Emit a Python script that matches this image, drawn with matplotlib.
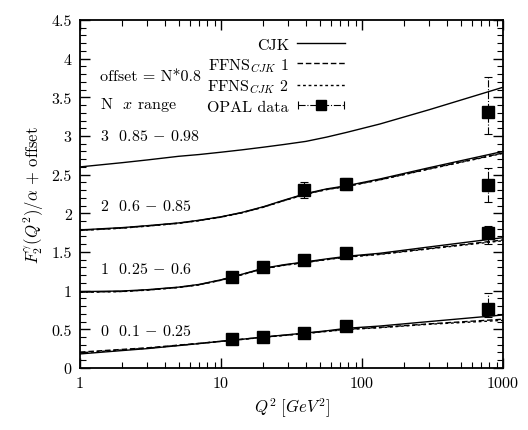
import matplotlib
matplotlib.use("Agg")
import matplotlib.pyplot as plt
import matplotlib.ticker as ticker
from matplotlib.lines import Line2D
from matplotlib.legend_handler import HandlerErrorbar

plt.rcParams['font.family'] = 'serif'
plt.rcParams['font.serif'] = ['cmr10', 'DejaVu Serif']
plt.rcParams['mathtext.fontset'] = 'cm'
plt.rcParams['axes.formatter.use_mathtext'] = True
plt.rcParams['font.size'] = 11

# Q^2 grid for the theory curves (GeV^2)
q2_curve = [1, 2, 3, 5, 7, 10, 14, 20, 28, 40, 56, 78, 134, 300, 1000]

# CJK curves, offset already included (N = 0..3)
cjk_0 = [0.181, 0.225, 0.25, 0.289, 0.315, 0.345, 0.37, 0.40, 0.425, 0.452, 0.48, 0.513, 0.542, 0.60, 0.685]
cjk_1 = [0.987, 0.995, 1.012, 1.045, 1.08, 1.14, 1.21, 1.289, 1.335, 1.372, 1.41, 1.444, 1.483, 1.565, 1.685]
cjk_2 = [1.785, 1.815, 1.84, 1.875, 1.91, 1.955, 2.01, 2.085, 2.17, 2.255, 2.315, 2.357, 2.444, 2.59, 2.80]
cjk_3 = [2.60, 2.655, 2.69, 2.737, 2.76, 2.79, 2.82, 2.855, 2.89, 2.93, 2.985, 3.047, 3.155, 3.34, 3.63]

# FFNS_CJK 1 and 2 curves
ffns1_0 = [0.205, 0.24, 0.26, 0.295, 0.318, 0.345, 0.37, 0.398, 0.422, 0.448, 0.475, 0.50, 0.525, 0.57, 0.63]
ffns1_1 = [0.98, 0.99, 1.008, 1.042, 1.077, 1.137, 1.207, 1.285, 1.33, 1.367, 1.404, 1.437, 1.473, 1.545, 1.655]
ffns1_2 = [1.78, 1.81, 1.836, 1.872, 1.907, 1.952, 2.007, 2.081, 2.165, 2.25, 2.309, 2.35, 2.435, 2.576, 2.78]
ffns2_0 = [0.195, 0.233, 0.255, 0.292, 0.316, 0.343, 0.368, 0.396, 0.42, 0.445, 0.472, 0.497, 0.52, 0.565, 0.615]
ffns2_1 = [0.978, 0.988, 1.006, 1.04, 1.075, 1.134, 1.204, 1.282, 1.327, 1.364, 1.4, 1.433, 1.468, 1.54, 1.645]
ffns2_2 = [1.778, 1.808, 1.834, 1.87, 1.905, 1.95, 2.005, 2.079, 2.163, 2.247, 2.306, 2.347, 2.432, 2.572, 2.775]

# OPAL data (offset included)
q2_0 = [12, 20, 39, 77, 780]
f2_0 = [0.375, 0.405, 0.449, 0.539, 0.759]
lo_0 = [0.02, 0.02, 0.02, 0.02, 0.10]
hi_0 = [0.02, 0.02, 0.02, 0.02, 0.205]

q2_1 = [12, 20, 39, 77, 780]
f2_1 = [1.18, 1.30, 1.397, 1.483, 1.742]
lo_1 = [0.02, 0.02, 0.02, 0.02, 0.14]
hi_1 = [0.02, 0.02, 0.02, 0.02, 0.10]

q2_2 = [39, 77, 780]
f2_2 = [2.30, 2.375, 2.37]
lo_2 = [0.10, 0.08, 0.23]
hi_2 = [0.10, 0.08, 0.22]

q2_3 = [780]
f2_3 = [3.315]
lo_3 = [0.29]
hi_3 = [0.445]

row_labels = [r'0  0.1 $-$ 0.25', r'1  0.25 $-$ 0.6', r'2  0.6 $-$ 0.85', r'3  0.85 $-$ 0.98']
row_y = [0.49, 1.29, 2.1, 3.0]

fig = plt.figure(figsize=(5.28, 4.31), dpi=100)
ax = fig.add_axes([0.1515, 0.144, 0.8012, 0.8073])

lw = 1.0
dash1 = (0, (4, 2))
dash2 = (0, (2, 2))
for cj in [cjk_0, cjk_1, cjk_2, cjk_3]:
    ax.plot(q2_curve, cj, c='k', lw=lw)
for f1 in [ffns1_0, ffns1_1, ffns1_2]:
    ax.plot(q2_curve, f1, c='k', lw=lw, ls=dash1)
for f2 in [ffns2_0, ffns2_1, ffns2_2]:
    ax.plot(q2_curve, f2, c='k', lw=lw, ls=dash2)

for q, f, lo, hi in [(q2_0, f2_0, lo_0, hi_0), (q2_1, f2_1, lo_1, hi_1),
                     (q2_2, f2_2, lo_2, hi_2), (q2_3, f2_3, lo_3, hi_3)]:
    eb = ax.errorbar(q, f, yerr=[lo, hi], fmt='s', c='k', ms=8, capsize=3,
                     elinewidth=0.8, capthick=0.8)
    eb[2][0].set_linestyle('-.')

# proxy for the legend (horizontal error bar), drawn outside the x range
proxy = ax.errorbar([0.1], [-1], xerr=[0.01], fmt='s', c='k', ms=7, capsize=3,
                    elinewidth=0.8, capthick=0.8)
proxy[2][0].set_linestyle('-.')

handles = [Line2D([], [], c='k', lw=lw),
           Line2D([], [], c='k', lw=lw, ls=dash1),
           Line2D([], [], c='k', lw=lw, ls=dash2),
           proxy]
labels = ['CJK', r'FFNS$_{CJK}$ 1', r'FFNS$_{CJK}$ 2', 'OPAL data']
ax.legend(handles, labels, loc='upper right', bbox_to_anchor=(0.66, 0.99),
          markerfirst=False, frameon=False, handlelength=3.0,
          labelspacing=0.25, handletextpad=0.5, fontsize=11.5,
          handler_map={type(proxy): HandlerErrorbar(xerr_size=1.45)})

ax.text(1.38, 3.78, r'offset = N*0.8', va='center', fontsize=11.5)
ax.text(1.38, 3.41, r'N  $x$ range', va='center', fontsize=11.5)
for lab, yy in zip(row_labels, row_y):
    ax.text(1.38, yy, lab, va='center', fontsize=11.5)

ax.set_xscale('log')
ax.set_xlim(1, 1000)
ax.set_ylim(0, 4.5)
ax.yaxis.set_major_locator(ticker.MultipleLocator(0.5))
ax.yaxis.set_minor_locator(ticker.MultipleLocator(0.1))
ax.yaxis.set_major_formatter(ticker.FuncFormatter(lambda v, p: '%g' % v))
ax.xaxis.set_major_formatter(ticker.FuncFormatter(lambda v, p: '%g' % v))
ax.xaxis.set_minor_formatter(ticker.NullFormatter())
ax.tick_params(which='both', direction='in', top=True, right=True, labelsize=11.5)
ax.tick_params(which='major', length=7, width=1.0, pad=6)
ax.tick_params(which='minor', length=4, width=0.8)
for s in ax.spines.values():
    s.set_linewidth(1.3)

ax.set_xlabel(r'$Q^2\ [GeV^2]$', fontsize=12)
ax.set_ylabel(r'$F_2^\gamma(Q^2)/\alpha$ + offset', fontsize=12)

fig.savefig('out.png', dpi=100)
